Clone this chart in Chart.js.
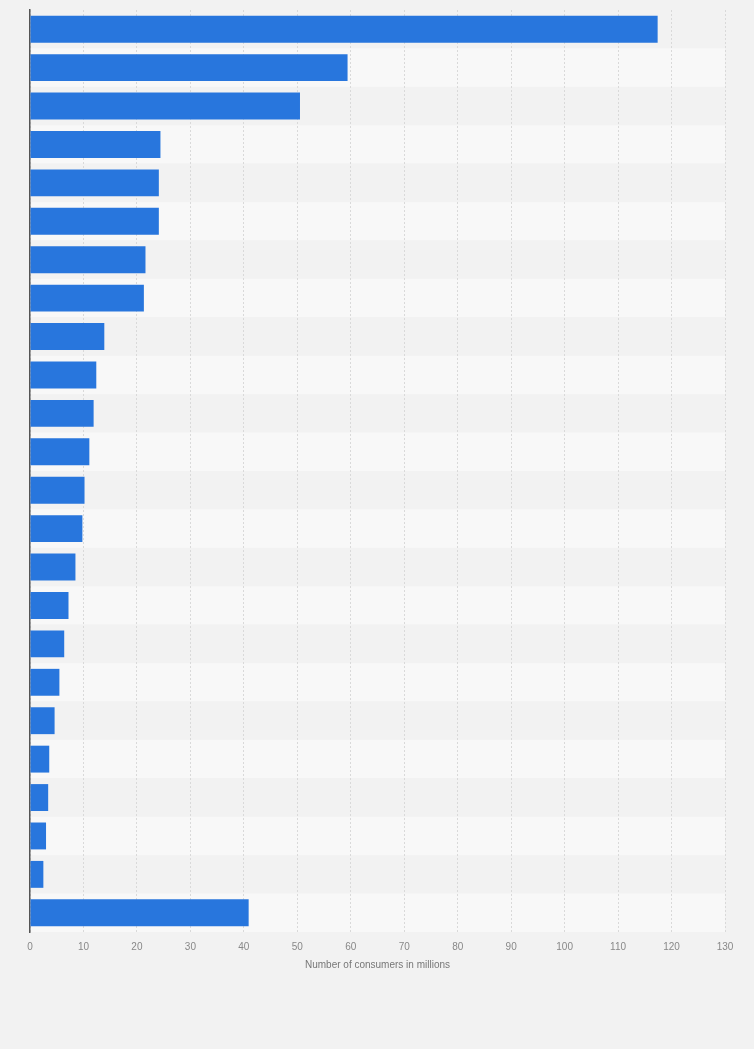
<!DOCTYPE html>
<html>
<head>
<meta charset="utf-8">
<script src="https://cdn.jsdelivr.net/npm/chart.js@4"></script>
<style>
  html, body { margin: 0; padding: 0; background: #f2f2f2; }
  #wrap { width: 754px; height: 1049px; }
</style>
</head>
<body>
<div id="wrap"><canvas id="chart"></canvas></div>
<script>
// category names are not printed on the chart, so plain row ids are used
const categories = ["1", "2", "3", "4", "5", "6", "7", "8", "9", "10", "11", "12",
  "13", "14", "15", "16", "17", "18", "19", "20", "21", "22", "23", "24"];
const consumers = [117.4, 59.4, 50.5, 24.4, 24.1, 24.1, 21.6, 21.3, 13.9, 12.4, 11.9, 11.1,
  10.2, 9.8, 8.5, 7.2, 6.4, 5.5, 4.6, 3.6, 3.4, 3.0, 2.5, 40.9];
const xTicks = [0, 10, 20, 30, 40, 50, 60, 70, 80, 90, 100, 110, 120, 130];
const axisTitle = "Number of consumers in millions";

// alternating row shading behind the bars
const rowStripes = {
  id: "rowStripes",
  beforeDraw(chart) {
    const { ctx, chartArea } = chart;
    const y = chart.scales.y;
    const band = (y.getPixelForValue(1) - y.getPixelForValue(0));
    ctx.save();
    categories.forEach((c, i) => {
      const mid = y.getPixelForValue(i);
      ctx.fillStyle = i % 2 === 0 ? "#f2f2f2" : "#f8f8f8";
      ctx.fillRect(chartArea.left, mid - band / 2, chartArea.right - chartArea.left, band);
    });
    ctx.restore();
  }
};

new Chart(document.getElementById("chart"), {
  type: "bar",
  data: {
    labels: categories,
    datasets: [{
      label: axisTitle,
      data: consumers,
      backgroundColor: "#2876dd",
      borderWidth: 0,
      categoryPercentage: 0.7,
      barPercentage: 1
    }]
  },
  options: {
    indexAxis: "y",
    responsive: true,
    maintainAspectRatio: false,
    animation: false,
    layout: { padding: { left: 29, right: 29, top: 10, bottom: 74 } },
    plugins: { legend: { display: false }, tooltip: { enabled: false } },
    scales: {
      x: {
        min: 0,
        max: 130,
        afterBuildTicks: (scale) => { scale.ticks = xTicks.map((v) => ({ value: v })); },
        afterFit: (scale) => { scale.height = 43; },
        grid: { color: "#d9d9d9", lineWidth: 1, drawTicks: false },
        border: { display: false, dash: [2, 2] },
        ticks: { color: "#888", font: { family: "Arial, 'Liberation Sans', sans-serif", size: 10 }, padding: 9 },
        title: {
          display: true,
          text: axisTitle,
          color: "#777",
          font: { family: "Arial, 'Liberation Sans', sans-serif", size: 10 },
          padding: { top: 4, bottom: 4 }
        }
      },
      y: {
        afterFit: (scale) => { scale.width = 1; },
        grid: { display: false },
        border: { display: true, color: "#555", width: 1.5 },
        ticks: { display: false }
      }
    }
  },
  plugins: [rowStripes]
});
</script>
</body>
</html>
